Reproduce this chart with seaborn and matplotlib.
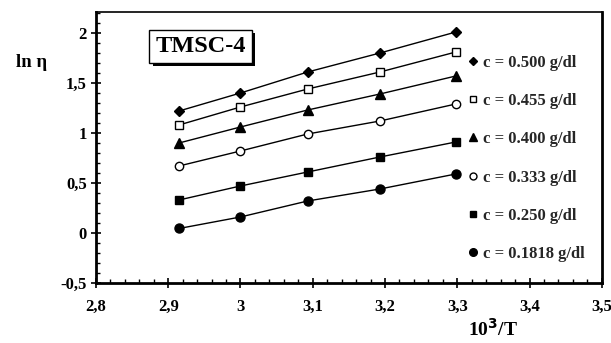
import matplotlib
matplotlib.use("Agg")
import matplotlib.pyplot as plt
import matplotlib.patheffects as pe
from matplotlib.lines import Line2D
from matplotlib.ticker import MultipleLocator
import seaborn as sns
import pandas as pd

# Reciprocal temperature 10^3/T (1/K)
inv_T = [2.915, 3.000, 3.093, 3.193, 3.298]

# ln(viscosity) for each concentration
ln_eta_0500 = [1.22, 1.40, 1.61, 1.80, 2.01]
ln_eta_0455 = [1.08, 1.26, 1.44, 1.61, 1.81]
ln_eta_0400 = [0.90, 1.06, 1.23, 1.39, 1.57]
ln_eta_0333 = [0.67, 0.82, 0.99, 1.12, 1.29]
ln_eta_0250 = [0.33, 0.47, 0.61, 0.76, 0.91]
ln_eta_01818 = [0.045, 0.16, 0.32, 0.44, 0.59]

series_labels = ["c = 0.500 g/dl", "c = 0.455 g/dl", "c = 0.400 g/dl",
                 "c = 0.333 g/dl", "c = 0.250 g/dl", "c = 0.1818 g/dl"]

xticks = [2.8, 2.9, 3.0, 3.1, 3.2, 3.3, 3.4, 3.5]
xtick_labels = ["2,8", "2,9", "3", "3,1", "3,2", "3,3", "3,4", "3,5"]
yticks = [-0.5, 0.0, 0.5, 1.0, 1.5, 2.0]
ytick_labels = ["-0,5", "0", "0,5", "1", "1,5", "2"]

sns.set_theme(style="ticks")
plt.rcParams["font.family"] = ["Liberation Serif", "DejaVu Serif"]
plt.rcParams["font.weight"] = "bold"

fig = plt.figure(figsize=(6.11, 3.43), dpi=100)
ax = fig.add_axes([0.157, 0.175, 0.828, 0.790])

series = [ln_eta_0500, ln_eta_0455, ln_eta_0400, ln_eta_0333, ln_eta_0250, ln_eta_01818]
markers = ["D", "s", "^", "o", "s", "o"]
sizes = [5, 6, 6.5, 6, 6, 6.5]
filled = [True, False, True, False, True, True]

handles = []
for vals, lab, mk, ms, fl in zip(series, series_labels, markers, sizes, filled):
    df = pd.DataFrame({"x": inv_T, "y": vals})
    fc = "black" if fl else "white"
    sns.lineplot(data=df, x="x", y="y", ax=ax, color="black", linewidth=1.0,
                 marker=mk, markersize=ms, markerfacecolor=fc,
                 markeredgecolor="black", markeredgewidth=1.0)
    handles.append(Line2D([], [], linestyle="none", marker=mk, markersize=ms - 1,
                          markerfacecolor=fc, markeredgecolor="black",
                          markeredgewidth=1.0))

ax.set_xlim(2.8, 3.5)
ax.set_ylim(-0.5, 2.21)
ax.set_xticks(xticks)
ax.set_xticklabels(xtick_labels)
ax.set_yticks(yticks)
ax.set_yticklabels(ytick_labels)
ax.xaxis.set_minor_locator(MultipleLocator(0.02))
ax.yaxis.set_minor_locator(MultipleLocator(0.1))
ax.tick_params(which="major", direction="inout", length=7, width=1.2,
               labelsize=12, colors="black")
ax.tick_params(axis="x", which="major", pad=8)
ax.tick_params(axis="y", which="major", pad=3)
ax.tick_params(which="minor", direction="in", length=3, width=1.0, colors="black")
for lbl in ax.get_xticklabels() + ax.get_yticklabels():
    lbl.set_fontweight("bold")
ax.set_xlabel("")
ax.set_ylabel("")
for side in ["left", "bottom", "right", "top"]:
    ax.spines[side].set_color("black")
    ax.spines[side].set_linewidth(2.0 if side in ("left", "bottom", "right") else 1.2)
ax.grid(False)

leg = ax.legend(handles, series_labels, loc="upper left",
                bbox_to_anchor=(0.738, 0.843), frameon=False,
                prop={"family": "Liberation Serif", "weight": "bold", "size": 12},
                handlelength=0.5, handletextpad=0.35, labelspacing=1.34,
                borderpad=0, borderaxespad=0)

# Title box with a drop shadow
title = ax.text(0.2065, 0.874, "TMSC-4", transform=ax.transAxes, ha="center",
                va="center", fontsize=17.5, fontweight="bold", color="black",
                bbox=dict(boxstyle="square,pad=0.25", facecolor="white",
                          edgecolor="black", linewidth=1.0))
title.get_bbox_patch().set_path_effects([
    pe.SimplePatchShadow(offset=(2.5, -2.5), shadow_rgbFace="black", alpha=1.0),
    pe.Normal(),
])

fig.text(0.051, 0.818, "ln η", ha="center", va="center", fontsize=13.5,
         fontweight="bold", color="black")
fig.text(0.807, 0.040, "10$^{\\mathbf{3}}$/T", ha="center", va="center", fontsize=14,
         fontweight="bold", color="black")

fig.savefig("out.png", dpi=100)
